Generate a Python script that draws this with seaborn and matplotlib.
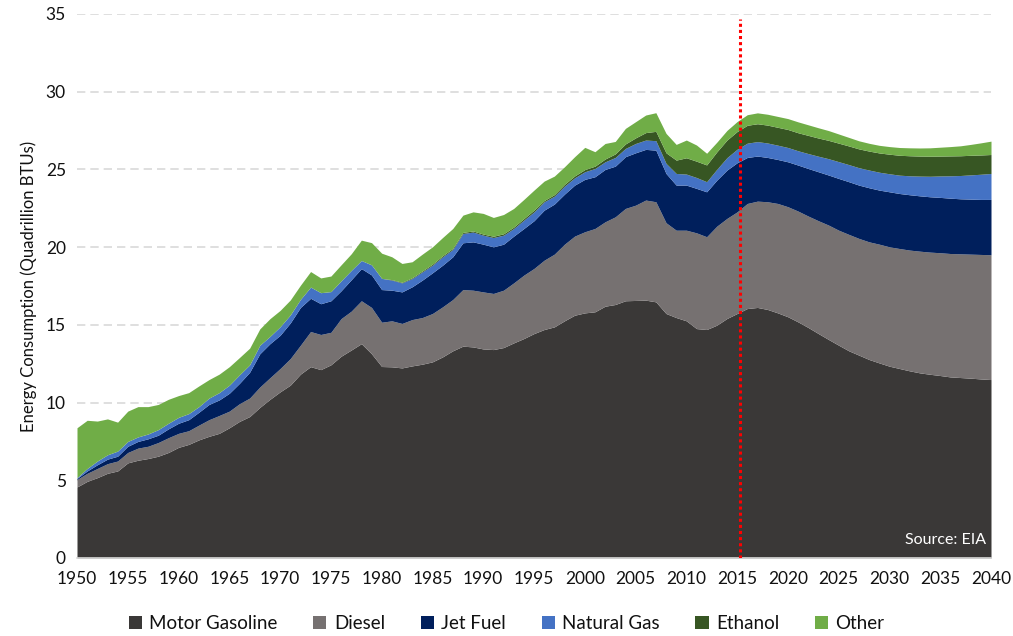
import numpy as np
import pandas as pd
import matplotlib
matplotlib.use("Agg")
import matplotlib.pyplot as plt
from matplotlib.patches import Patch
import seaborn as sns

years = list(range(1950, 2041))

motor_gasoline = [
    4.57, 4.93, 5.17, 5.45, 5.60, 6.12, 6.29, 6.40, 6.55, 6.79,
    7.12, 7.31, 7.60, 7.83, 8.02, 8.38, 8.79, 9.10, 9.69, 10.21,
    10.69, 11.12, 11.83, 12.31, 12.12, 12.43, 12.98, 13.38, 13.79, 13.14,
    12.32, 12.30, 12.23, 12.36, 12.47, 12.62, 12.94, 13.33, 13.63, 13.58,
    13.45, 13.41, 13.54, 13.84, 14.12, 14.44, 14.70, 14.87, 15.26, 15.62,
    15.77, 15.84, 16.20, 16.31, 16.55, 16.57, 16.59, 16.48, 15.73, 15.47,
    15.26, 14.76, 14.70, 14.98, 15.41, 15.73, 16.05, 16.12, 15.99, 15.77,
    15.52, 15.19, 14.83, 14.44, 14.06, 13.69, 13.33, 13.05, 12.77, 12.55,
    12.34, 12.19, 12.04, 11.91, 11.82, 11.74, 11.65, 11.61, 11.57, 11.52,
    11.48]

diesel = [
    0.48, 0.52, 0.59, 0.62, 0.64, 0.67, 0.78, 0.79, 0.88, 0.95,
    0.90, 0.88, 0.95, 1.07, 1.15, 1.07, 1.14, 1.19, 1.31, 1.39,
    1.50, 1.71, 1.86, 2.26, 2.26, 2.09, 2.42, 2.50, 2.76, 2.98,
    2.85, 2.96, 2.86, 2.98, 3.00, 3.11, 3.22, 3.30, 3.64, 3.65,
    3.67, 3.61, 3.69, 3.86, 4.08, 4.19, 4.46, 4.68, 4.93, 5.09,
    5.22, 5.36, 5.43, 5.64, 5.94, 6.13, 6.44, 6.44, 5.84, 5.62,
    5.83, 6.16, 5.97, 6.37, 6.44, 6.54, 6.76, 6.84, 6.93, 7.04,
    7.08, 7.13, 7.17, 7.26, 7.36, 7.40, 7.49, 7.51, 7.57, 7.64,
    7.68, 7.72, 7.77, 7.83, 7.86, 7.90, 7.94, 7.96, 7.98, 8.01,
    8.03]

jet_fuel = [
    0.07, 0.15, 0.24, 0.29, 0.31, 0.40, 0.43, 0.48, 0.47, 0.57,
    0.65, 0.71, 0.83, 0.98, 1.00, 1.15, 1.31, 1.66, 2.14, 2.19,
    2.14, 2.29, 2.43, 2.14, 1.98, 2.03, 1.79, 2.02, 2.07, 2.09,
    2.10, 1.97, 2.03, 2.11, 2.41, 2.62, 2.68, 2.75, 3.01, 3.11,
    3.07, 3.00, 2.96, 3.01, 3.00, 3.07, 3.22, 3.22, 3.22, 3.28,
    3.37, 3.33, 3.37, 3.26, 3.33, 3.37, 3.26, 3.32, 3.17, 2.90,
    2.90, 2.86, 2.89, 2.96, 3.11, 3.16, 2.96, 2.90, 2.85, 2.83,
    2.89, 2.96, 3.06, 3.15, 3.22, 3.33, 3.39, 3.43, 3.48, 3.48,
    3.54, 3.54, 3.56, 3.56, 3.56, 3.56, 3.56, 3.54, 3.54, 3.54,
    3.56]

natural_gas = [
    0.05, 0.16, 0.24, 0.28, 0.33, 0.31, 0.29, 0.31, 0.36, 0.36,
    0.38, 0.39, 0.36, 0.41, 0.47, 0.52, 0.55, 0.48, 0.55, 0.47,
    0.55, 0.52, 0.52, 0.72, 0.71, 0.59, 0.64, 0.60, 0.52, 0.65,
    0.72, 0.65, 0.58, 0.53, 0.53, 0.49, 0.54, 0.47, 0.60, 0.63,
    0.58, 0.60, 0.58, 0.49, 0.54, 0.57, 0.54, 0.51, 0.52, 0.47,
    0.49, 0.53, 0.49, 0.56, 0.53, 0.60, 0.60, 0.61, 0.65, 0.75,
    0.71, 0.70, 0.65, 0.70, 0.80, 0.87, 0.92, 0.93, 0.93, 0.92,
    0.92, 0.92, 0.96, 1.00, 1.05, 1.08, 1.10, 1.12, 1.14, 1.15,
    1.16, 1.18, 1.22, 1.27, 1.32, 1.38, 1.44, 1.50, 1.56, 1.62,
    1.67]

ethanol = [
    0.00, 0.00, 0.00, 0.00, 0.00, 0.00, 0.00, 0.00, 0.00, 0.00,
    0.00, 0.00, 0.00, 0.00, 0.00, 0.00, 0.00, 0.00, 0.00, 0.00,
    0.00, 0.00, 0.00, 0.00, 0.00, 0.00, 0.00, 0.00, 0.00, 0.00,
    0.00, 0.03, 0.04, 0.05, 0.06, 0.07, 0.07, 0.07, 0.07, 0.07,
    0.07, 0.08, 0.09, 0.09, 0.10, 0.11, 0.08, 0.10, 0.11, 0.12,
    0.14, 0.15, 0.18, 0.23, 0.29, 0.36, 0.48, 0.60, 0.68, 0.86,
    1.05, 1.05, 1.08, 1.12, 1.13, 1.14, 1.15, 1.15, 1.15, 1.15,
    1.16, 1.16, 1.17, 1.17, 1.18, 1.19, 1.20, 1.21, 1.22, 1.24,
    1.26, 1.28, 1.29, 1.29, 1.29, 1.28, 1.28, 1.27, 1.26, 1.24,
    1.22]

other = [
    3.21, 3.10, 2.57, 2.31, 1.86, 1.95, 1.95, 1.76, 1.62, 1.54,
    1.40, 1.35, 1.33, 1.19, 1.19, 1.19, 1.11, 1.07, 1.05, 1.14,
    1.05, 0.96, 0.91, 1.00, 0.95, 1.00, 1.03, 1.07, 1.31, 1.43,
    1.62, 1.47, 1.21, 1.03, 1.08, 1.11, 1.17, 1.28, 1.11, 1.23,
    1.33, 1.21, 1.24, 1.20, 1.23, 1.29, 1.25, 1.19, 1.13, 1.24,
    1.43, 0.93, 1.00, 0.80, 1.00, 1.04, 1.13, 1.20, 1.25, 1.01,
    1.14, 1.04, 0.75, 0.62, 0.62, 0.64, 0.68, 0.70, 0.70, 0.70,
    0.70, 0.70, 0.68, 0.66, 0.63, 0.59, 0.55, 0.52, 0.50, 0.49,
    0.49, 0.50, 0.51, 0.52, 0.54, 0.57, 0.60, 0.64, 0.70, 0.78,
    0.86]

series_names = ["Motor Gasoline", "Diesel", "Jet Fuel", "Natural Gas", "Ethanol", "Other"]
colors = ["#3a3837", "#767171", "#001f5c", "#4472c4", "#375623", "#70ad47"]
y_ticks = [0, 5, 10, 15, 20, 25, 30, 35]
x_ticks = list(range(1950, 2041, 5))
forecast_start = 2015.3

df = pd.DataFrame({
    "Year": years,
    "Motor Gasoline": motor_gasoline,
    "Diesel": diesel,
    "Jet Fuel": jet_fuel,
    "Natural Gas": natural_gas,
    "Ethanol": ethanol,
    "Other": other,
})

sns.set_theme(style="white")
plt.rcParams["font.family"] = ["Lato", "DejaVu Sans"]

fig = plt.figure(figsize=(10.13, 6.36), dpi=100)
ax = fig.add_axes([77 / 1013, 78 / 636, (991 - 77) / 1013, (558 - 14) / 636])

ax.stackplot(df["Year"], *[df[n] for n in series_names], colors=colors,
             labels=series_names, linewidth=0, zorder=2)

ax.set_xlim(1950, 2040)
ax.set_ylim(0, 35)
ax.set_yticks(y_ticks)
ax.set_xticks(x_ticks)
ax.yaxis.grid(True, color="#d9d9d9", linestyle=(0, (5, 3)), linewidth=1.2, zorder=0)
ax.xaxis.grid(False)
ax.set_axisbelow(True)

for s in ["top", "right", "left"]:
    ax.spines[s].set_visible(False)
ax.spines["bottom"].set_color("#d9d9d9")
ax.spines["bottom"].set_linewidth(1.2)
ax.tick_params(axis="x", which="major", direction="out", length=5, width=1,
               color="#d9d9d9", labelsize=12.5, labelcolor="#111111", pad=4)
ax.tick_params(axis="y", length=0, labelsize=12.5, labelcolor="#111111", pad=8)

ax.set_ylabel("Energy Consumption (Quadrillion BTUs)", fontsize=12, color="#111111", labelpad=6)
ax.set_xlabel("")

ax.vlines(forecast_start, 0, 34.7, colors="#ff0000", linestyles=(0, (1, 1)), linewidth=2.2, zorder=3)

ax.text(0.995, 0.02, "Source: EIA", transform=ax.transAxes, ha="right", va="bottom",
        color="white", fontsize=11.5, zorder=4)

handles = [Patch(facecolor=c, edgecolor="none") for c in colors]
fig.legend(handles, series_names, loc="center", bbox_to_anchor=(0.5, 0.019),
           ncol=6, frameon=False, fontsize=13.5, handlelength=0.7, handleheight=0.7,
           handletextpad=0.4, columnspacing=1.9, labelcolor="#111111")

fig.savefig("out.png", dpi=100)
